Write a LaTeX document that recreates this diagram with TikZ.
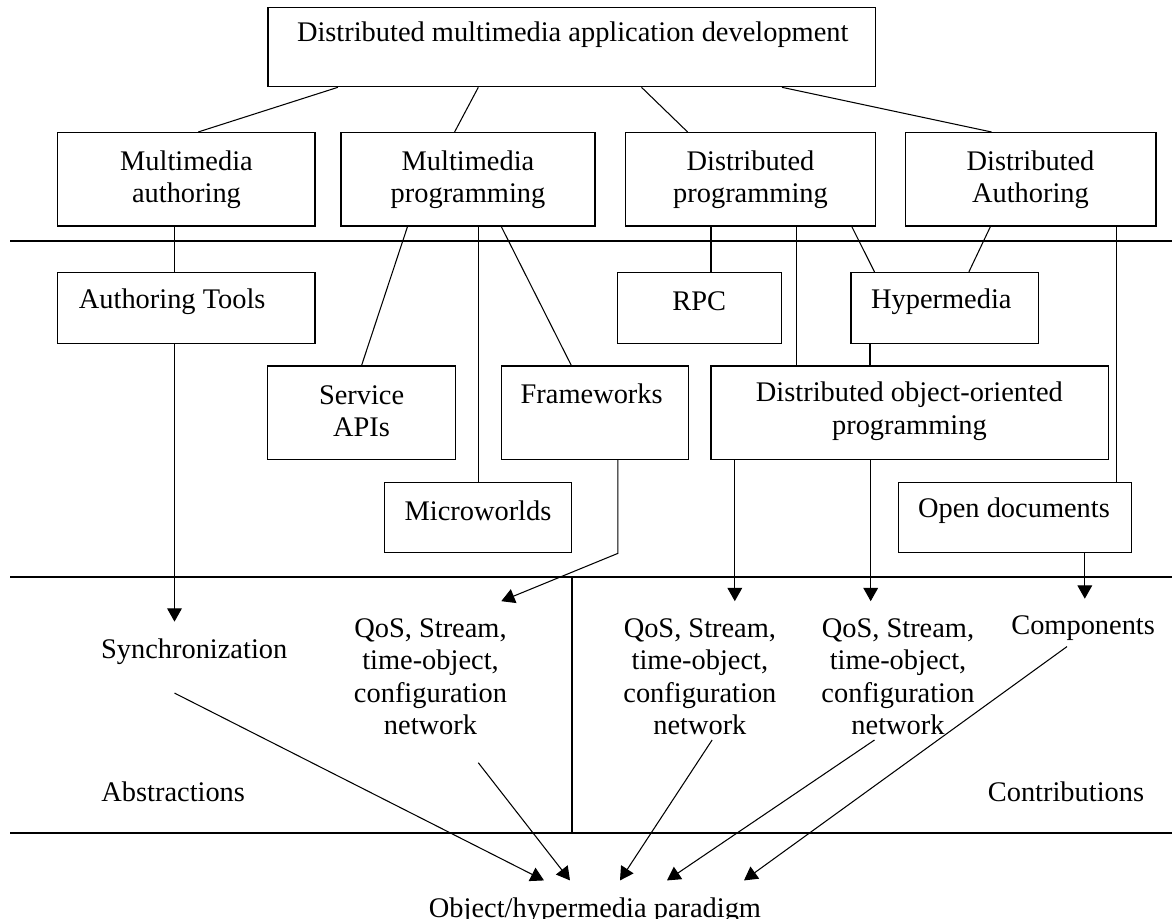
\documentclass[tikz,border=0pt]{standalone}
\usepackage{fontspec}
\setmainfont{Liberation Serif}
\usetikzlibrary{arrows.meta, calc}

\begin{document}
\begin{tikzpicture}[x=0.025cm, y=-0.025cm,
	every node/.style={font=\fontsize{20.2}{23.1}\selectfont},
	box/.style={draw, line width=1pt, inner sep=0pt},
	lbl/.style={align=center, inner sep=12pt},
	link/.style={line width=0.75pt},
	arr/.style={link, -{Triangle[length=9.5pt, width=10.5pt]}},
	rule/.style={line width=1.2pt}]
	\useasboundingbox (0,0) rectangle (1172,919);

	\foreach \y in {241,576.7,833.3}{\draw[rule] (10,\y) -- (1172,\y);}
	\draw[rule] (571.7,576.7) -- (571.7,833.3);

	\node[box, minimum width=15.19cm, minimum height=1.98cm] (dev) at (571.8,47) {};
	\node[box, minimum width=6.44cm, minimum height=2.33cm] (mmauth) at (186.2,179.3) {};
	\node[box, minimum width=6.35cm, minimum height=2.33cm] (mmprog) at (468,179.3) {};
	\node[box, minimum width=6.26cm, minimum height=2.33cm] (dprog) at (750.5,179.3) {};
	\node[box, minimum width=6.25cm, minimum height=2.33cm] (dauth) at (1030.8,179.3) {};
	\node[box, minimum width=6.44cm, minimum height=1.77cm] (tools) at (186.2,308) {};
	\node[box, minimum width=4.09cm, minimum height=1.77cm] (rpc) at (699.5,308) {};
	\node[box, minimum width=4.68cm, minimum height=1.77cm] (hyper) at (944.8,308) {};
	\node[box, minimum width=4.69cm, minimum height=2.33cm] (apis) at (361.6,412.7) {};
	\node[box, minimum width=4.68cm, minimum height=2.33cm] (frame) at (594.9,412.7) {};
	\node[box, minimum width=9.94cm, minimum height=2.33cm] (doop) at (909.8,412.7) {};
	\node[box, minimum width=4.68cm, minimum height=1.75cm] (micro) at (478.1,517.7) {};
	\node[box, minimum width=5.83cm, minimum height=1.75cm] (opendoc) at (1015,517.7) {};

	\node[lbl] (devT) at (572.7,35) {Distributed multimedia application development};
	\node[lbl] (mmauthT) at (186.5,179.5) {Multimedia\\authoring};
	\node[lbl] (mmprogT) at (468,179.5) {Multimedia\\programming};
	\node[lbl] (dprogT) at (750.5,179.5) {Distributed\\programming};
	\node[lbl] (dauthT) at (1030.5,179.5) {Distributed\\Authoring};
	\node[lbl] (toolsT) at (172.2,301.5) {Authoring Tools};
	\node[lbl] (rpcT) at (699.3,301.5) {RPC};
	\node[lbl] (hyperT) at (941.3,301.5) {Hypermedia};
	\node[lbl] (apisT) at (361.6,411) {Service\\APIs};
	\node[lbl] (frameT) at (591.7,394) {Frameworks};
	\node[lbl] (doopT) at (909.4,411) {Distributed object-oriented\\programming};
	\node[lbl] (microT) at (478,511) {Microworlds};
	\node[lbl] (opendocT) at (1014,511) {Open documents};

	\node[lbl] (sync) at (194.2,651.7) {Synchronization};
	\node[lbl] (qosA) at (430.5,676.6) {QoS, Stream,\\time-object,\\configuration\\network};
	\node[lbl] (qosB) at (699.9,676.6) {QoS, Stream,\\time-object,\\configuration\\network};
	\node[lbl] (qosC) at (898,676.6) {QoS, Stream,\\time-object,\\configuration\\network};
	\node[lbl] (comp) at (1083.1,628.3) {Components};
	\node[lbl] (abstr) at (173.2,791.7) {Abstractions};
	\node[lbl] (contrib) at (1066,791.7) {Contributions};
	\node[lbl] (paradigm) at (595,910.5) {Object/hypermedia paradigm};

	\draw[link] (dev.south -| 337.9,0) -- (mmauth.north -| 198.2,0);
	\draw[link] (dev.south -| 478.3,0) -- (mmprog.north -| 454.6,0);
	\draw[link] (dev.south -| 641.5,0) -- (dprog.north -| 687.6,0);
	\draw[link] (dev.south -| 782,0) -- (dauth.north -| 991.5,0);

	\draw[link] (mmauth.south -| 174.5,0) -- (tools.north -| 174.5,0);
	\draw[link] (mmprog.south -| 407.5,0) -- (apis.north);
	\draw[link] (mmprog.south -| 478.3,0) -- (micro.north -| 478.3,0);
	\draw[link] (mmprog.south -| 501.3,0) -- (frame.north -| 571.3,0);
	\draw[link] (dprog.south -| 711,0) -- (rpc.north -| 711,0);
	\draw[link] (dprog.south -| 796.7,0) -- (doop.north -| 796.7,0);
	\draw[link] (dprog.south -| 851.8,0) -- (hyper.north -| 874.5,0);
	\draw[link] (dauth.south -| 990.4,0) -- (hyper.north -| 968.9,0);
	\draw[link] (dauth.south -| 1116.1,0) -- (opendoc.north -| 1116.1,0);
	\draw[link] (hyper.south -| 870,0) -- (doop.north -| 870,0);

	\draw[arr] (tools.south -| 174.5,0) -- (sync.north -| 174.5,0);
	\draw[arr] (frame.south -| 617.8,0) -- (micro.south -| 617.8,0) -- (qosA.north -| 501.3,0);
	\draw[arr] (doop.south -| 734.8,0) -- (qosB.north -| 734.8,0);
	\draw[arr] (doop.south -| 870.7,0) -- (qosC.north -| 870.7,0);
	\draw[arr] (opendoc.south -| 1084.8,0) -- (comp.north -| 1084.8,0);

	\draw[arr] ($(sync.south)+(-19.7,11.3)$) -- (paradigm.north -| 544,0);
	\draw[arr] ($(qosA.south)+(47.8,10.7)$) -- (paradigm.north -| 570,0);
	\draw[arr] ($(qosB.south)+(12.2,-12)$) -- (paradigm.north -| 620,0);
	\draw[arr] ($(qosC.south)+(-23.5,-12)$) -- (paradigm.north -| 667,0);
	\draw[arr] ($(comp.south)+(-16.1,-11.3)$) -- (paradigm.north -| 744,0);
\end{tikzpicture}
\end{document}
